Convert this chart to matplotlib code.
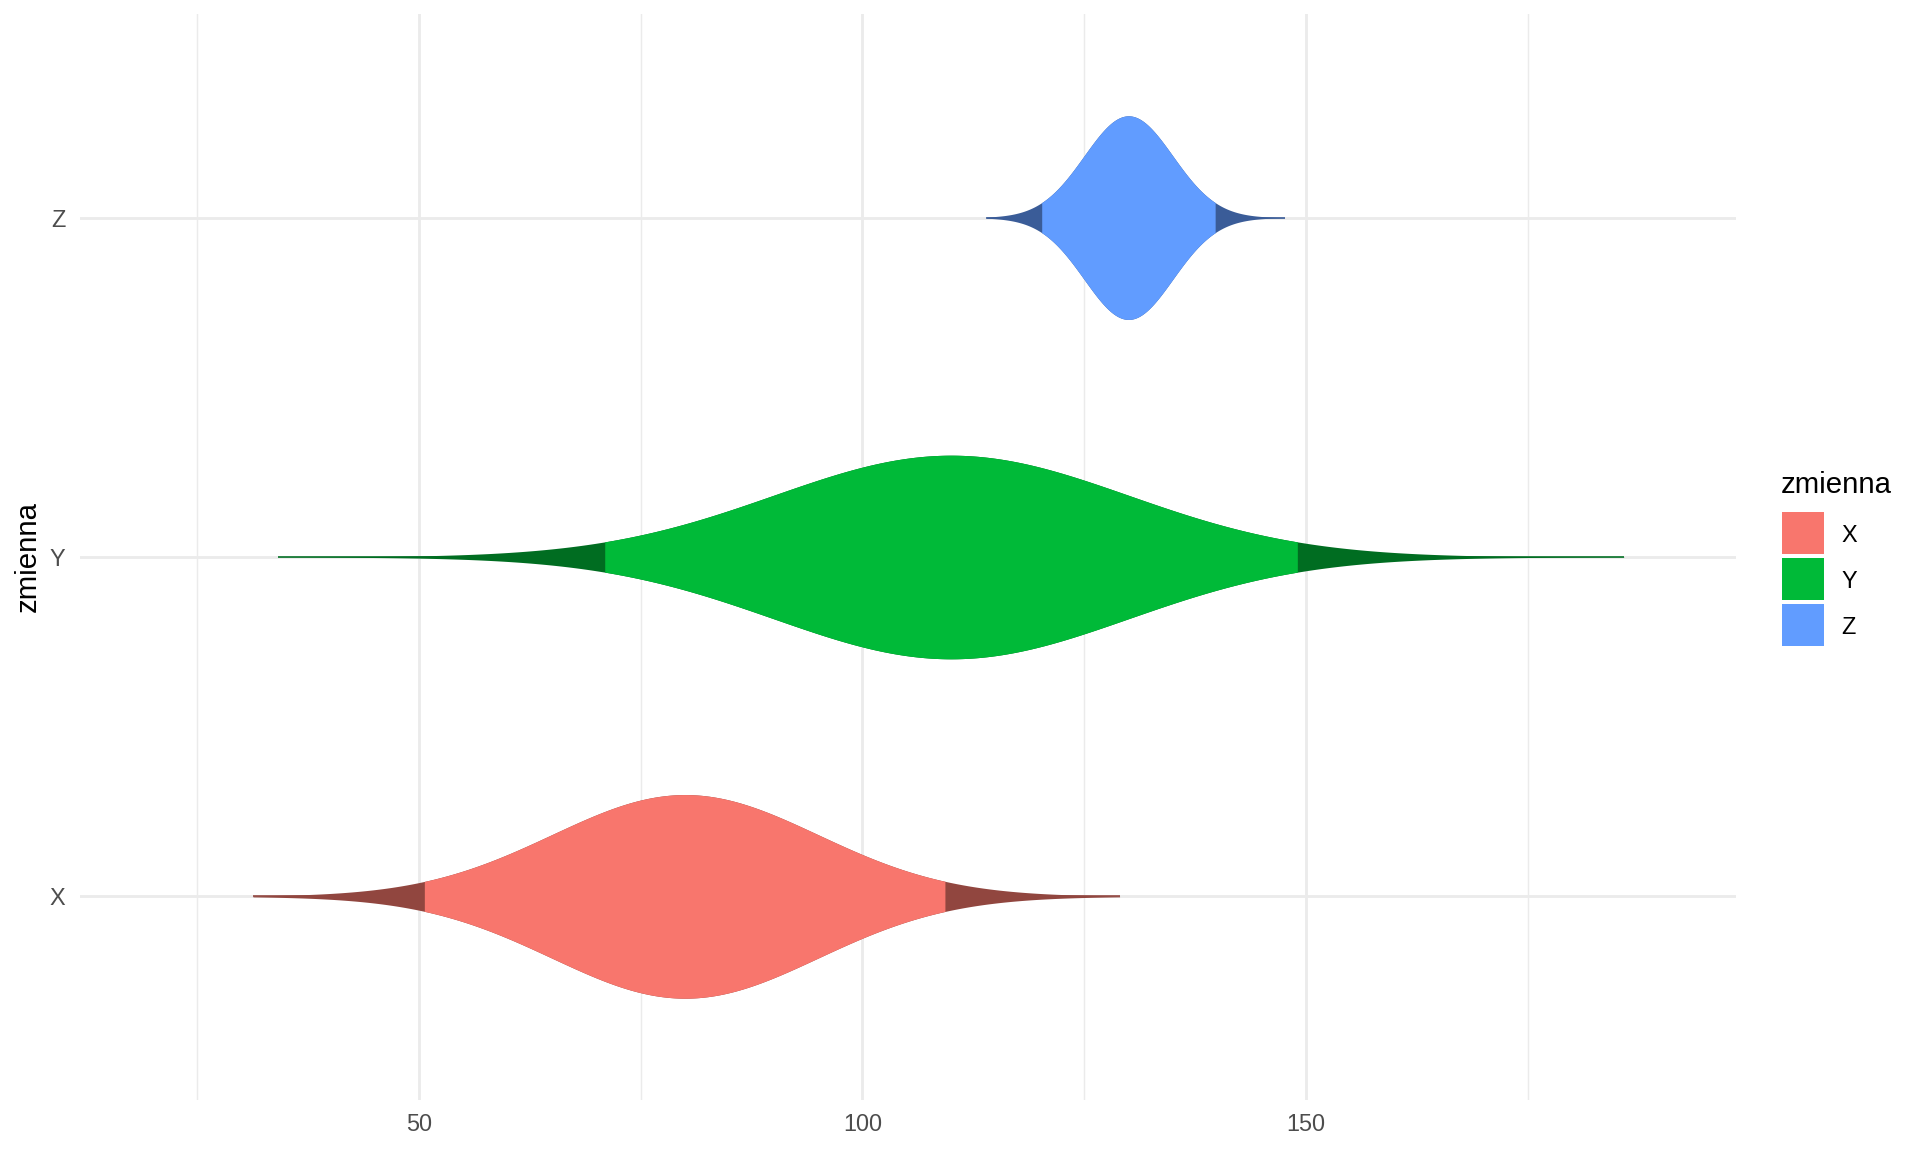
import matplotlib
matplotlib.use("Agg")
import matplotlib.pyplot as plt
from matplotlib.patches import Rectangle
import numpy as np

plt.rcParams["font.family"] = ["Liberation Sans", "DejaVu Sans"]

# groups and the distribution values
groups = ["X", "Y", "Z"]
means = [80, 110, 130]
sds = [15, 20, 5]
data_min = [31.3, 34.1, 114.0]
data_max = [129.0, 185.9, 147.6]
q_low = [50.6, 70.8, 120.2]     # 2.5% quantile
q_high = [109.4, 149.2, 139.8]  # 97.5% quantile

FILL = ["#F8766D", "#00BA38", "#619CFF"]
TAIL = ["#91463F", "#006D21", "#3A5C98"]
GRID = "#EBEBEB"
TICK = "#4D4D4D"

x_major = [50, 100, 150]
x_minor = [25, 75, 125, 175]

W, H = 1920, 1152
fig = plt.figure(figsize=(10, 6), dpi=192)
left, right, top, bottom = 80, 1736, 14, 1100
ax = fig.add_axes([left / W, 1 - bottom / H, (right - left) / W, (bottom - top) / H])

half_max = 0.3
for i, g in enumerate(groups):
    pos = i + 1
    xs = np.linspace(data_min[i], data_max[i], 800)
    half = half_max * np.exp(-0.5 * ((xs - means[i]) / sds[i]) ** 2)
    inner = (xs >= q_low[i]) & (xs <= q_high[i])
    # whole shape in the tail colour, then the central part on top
    ax.plot([data_min[i], data_max[i]], [pos, pos], color=TAIL[i], lw=0.6,
            solid_capstyle="butt", zorder=3)
    ax.fill_between(xs, pos - half, pos + half, color=TAIL[i], lw=0, zorder=3)
    ax.fill_between(xs[inner], pos - half[inner], pos + half[inner],
                    color=FILL[i], lw=0, zorder=4)

for v in x_minor:
    ax.axvline(v, color=GRID, lw=0.53, zorder=1)
for v in x_major:
    ax.axvline(v, color=GRID, lw=1.07, zorder=1)
for i in range(len(groups)):
    ax.axhline(i + 1, color=GRID, lw=1.07, zorder=1)

ax.set_xlim(11.8, 198.5)
ax.set_ylim(0.4, 3.6)
ax.set_xticks(x_major)
ax.set_xticklabels([str(v) for v in x_major])
ax.set_yticks(range(1, len(groups) + 1))
ax.set_yticklabels(groups)
ax.tick_params(length=0, labelsize=8.8, labelcolor=TICK)
ax.tick_params(axis="x", pad=5)
ax.tick_params(axis="y", pad=5.5)
for s in ax.spines.values():
    s.set_visible(False)

fig.text(28 / W, 1 - 557 / H, "zmienna", rotation=90, fontsize=11,
         ha="center", va="center", color="black")

# legend
fig.text(1781 / W, 1 - 493 / H, "zmienna", fontsize=11, ha="left",
         va="baseline", color="black")
key = 41.7
for i, g in enumerate(groups):
    y0 = 512 + i * 46
    fig.add_artist(Rectangle((1782 / W, 1 - (y0 + key) / H), key / W, key / H,
                             transform=fig.transFigure, color=FILL[i], lw=0))
    fig.text(1841 / W, 1 - (y0 + key / 2 + 3) / H, g, fontsize=8.8, ha="left",
             va="center", color="black")

fig.savefig("out.png", dpi=192)
